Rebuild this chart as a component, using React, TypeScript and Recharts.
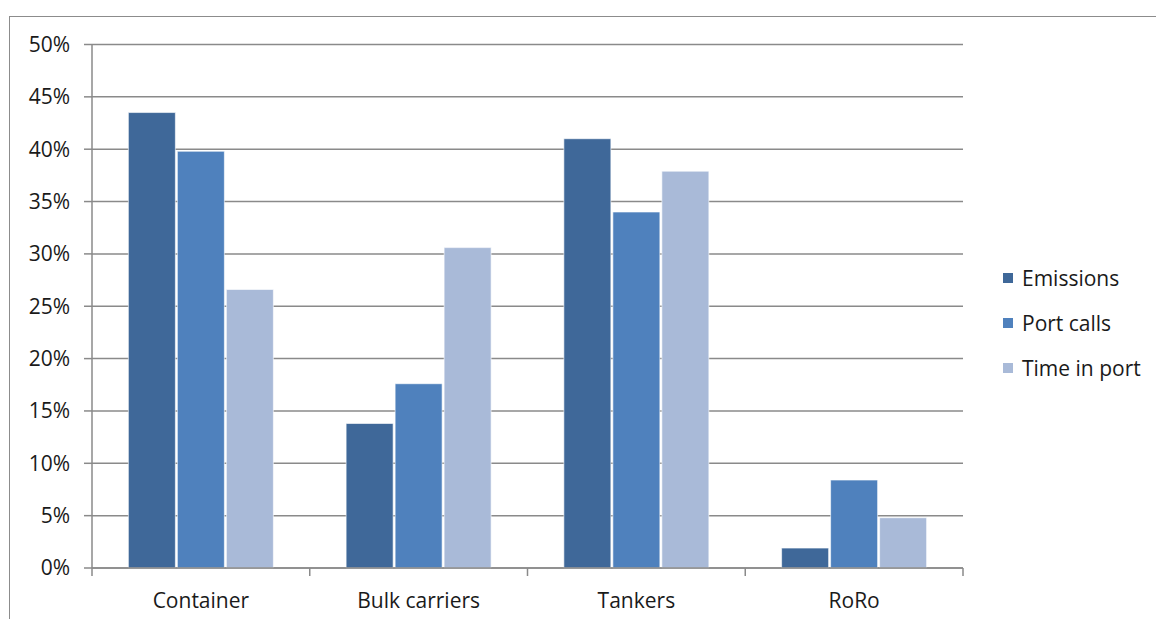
import React from "react";
import { BarChart, Bar, XAxis, YAxis, CartesianGrid } from "recharts";

const categories = ["Container", "Bulk carriers", "Tankers", "RoRo"];
const emissions = [0.435, 0.138, 0.41, 0.019];
const portCalls = [0.398, 0.176, 0.34, 0.084];
const timeInPort = [0.266, 0.306, 0.379, 0.048];
const yTicks = [0, 0.05, 0.1, 0.15, 0.2, 0.25, 0.3, 0.35, 0.4, 0.45, 0.5];

const seriesNames = ["Emissions", "Port calls", "Time in port"];
const seriesColors = ["#3F6899", "#4F81BD", "#A9BAD8"];

const data = categories.map((c, i) => ({
  name: c,
  emissions: emissions[i],
  portCalls: portCalls[i],
  timeInPort: timeInPort[i],
}));

const FONT = "'Open Sans', 'Noto Sans', sans-serif";
const GRID = "#8a8a8a";
const FS = 21;

const XTick = (props: any) => {
  const { x, y, payload, index, visibleTicksCount, width } = props;
  const half =
    payload && payload.offset ? payload.offset : width / (2 * (visibleTicksCount || 4));
  return (
    <g>
      <line x1={x - half} x2={x - half} y1={y} y2={y + 8} stroke={GRID} strokeWidth={1.5} />
      {index === visibleTicksCount - 1 && (
        <line x1={x + half} x2={x + half} y1={y} y2={y + 8} stroke={GRID} strokeWidth={1.5} />
      )}
      <text x={x} y={y + 40} textAnchor="middle" fontSize={FS} fill="#1a1a1a" fontFamily={FONT}>
        {payload.value}
      </text>
    </g>
  );
};

const LegendBox = () => (
  <div
    style={{
      position: "absolute",
      left: 1003,
      top: 255,
      fontFamily: FONT,
      fontSize: FS,
      color: "#1a1a1a",
    }}
  >
    {seriesNames.map((n, i) => (
      <div key={n} style={{ display: "flex", alignItems: "center", height: 45, whiteSpace: "nowrap" }}>
        <span
          style={{
            display: "inline-block",
            width: 10,
            height: 10,
            background: seriesColors[i],
            marginRight: 9,
          }}
        />
        <span>{n}</span>
      </div>
    ))}
  </div>
);

export default function App() {
  return (
    <div style={{ position: "absolute", left: 0, top: 0, width: 1156, height: 619, overflow: "hidden", background: "#fff" }}>
      <div
        style={{
          position: "absolute",
          left: 9,
          top: 16,
          width: 1200,
          height: 700,
          borderTop: "1.5px solid #8c8c8c",
          borderLeft: "1.5px solid #8c8c8c",
        }}
      />
      <div style={{ position: "absolute", left: 0, top: 0 }}>
        <BarChart
          width={1156}
          height={619}
          data={data}
          margin={{ top: 44.5, right: 193, bottom: 0, left: 0 }}
          barCategoryGap="16.7%"
          barGap={2}
        >
          <CartesianGrid vertical={false} stroke={GRID} strokeWidth={1.5} />
          <XAxis
            dataKey="name"
            axisLine={{ stroke: GRID, strokeWidth: 1.5 }}
            tickLine={false}
            tickSize={0}
            tickMargin={0}
            tick={<XTick />}
            interval={0}
            height={51}
          />
          <YAxis
            width={92}
            domain={[0, 0.5]}
            ticks={yTicks}
            interval={0}
            tickFormatter={(v: number) => `${Math.round(v * 100)}%`}
            axisLine={{ stroke: GRID, strokeWidth: 1.5 }}
            tickLine={{ stroke: GRID, strokeWidth: 1.5 }}
            tickSize={8}
            tickMargin={14}
            tick={{ fontSize: FS, fill: "#1a1a1a", fontFamily: FONT }}
          />
          <Bar dataKey="emissions" name={seriesNames[0]} fill={seriesColors[0]} stroke="#ffffff" strokeWidth={0.6} isAnimationActive={false} />
          <Bar dataKey="portCalls" name={seriesNames[1]} fill={seriesColors[1]} stroke="#ffffff" strokeWidth={0.6} isAnimationActive={false} />
          <Bar dataKey="timeInPort" name={seriesNames[2]} fill={seriesColors[2]} stroke="#ffffff" strokeWidth={0.6} isAnimationActive={false} />
        </BarChart>
      </div>
      <LegendBox />
    </div>
  );
}
